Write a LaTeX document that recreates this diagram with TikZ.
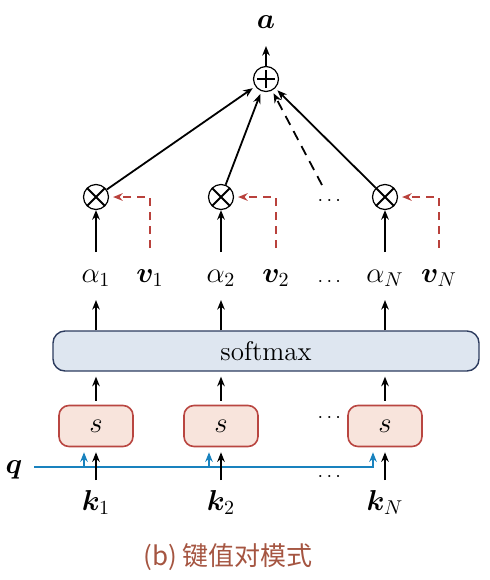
\documentclass[tikz,border=0pt]{standalone}
\usepackage{amsmath}
\usepackage{bm}
\usepackage{fontspec}
\usepackage{xcolor}
\usetikzlibrary{arrows.meta, positioning}
\newfontfamily\cjk{Noto Sans CJK SC}
\definecolor{softfill}{RGB}{222,230,240}
\definecolor{softdraw}{RGB}{45,60,95}
\definecolor{sfill}{RGB}{248,228,220}
\definecolor{sdraw}{RGB}{185,70,65}
\definecolor{qblue}{RGB}{25,130,190}
\definecolor{vred}{RGB}{185,65,60}
\definecolor{capcolor}{RGB}{165,85,65}

\begin{document}
\begin{tikzpicture}[
    x=0.5pt, y=-0.5pt,
    >={Stealth[length=4.8pt, width=3.8pt]},
    every node/.style={font=\fontsize{14}{16}\selectfont},
    lbl/.style={inner sep=0pt, outer sep=6pt, text height=9pt, text depth=3pt},
    dotsnode/.style={inner sep=0pt, text height=5pt, text depth=0pt, font=\fontsize{10}{12}\selectfont},
    sbox/.style={draw=sdraw, fill=sfill, rounded corners=5pt, line width=0.8pt, minimum width=37pt, minimum height=20.5pt},
    op/.style={draw, circle, minimum size=12.5pt, inner sep=0pt, line width=0.6pt},
    mul/.style={op, path picture={
        \draw[line width=1pt] ([shift={(45:6.25pt)}]path picture bounding box.center) -- ([shift={(225:6.25pt)}]path picture bounding box.center)
              ([shift={(135:6.25pt)}]path picture bounding box.center) -- ([shift={(315:6.25pt)}]path picture bounding box.center);}},
    add/.style={op, path picture={
        \draw[line width=1pt] ([xshift=-4.5pt]path picture bounding box.center) -- ([xshift=4.5pt]path picture bounding box.center)
              ([yshift=-4.5pt]path picture bounding box.center) -- ([yshift=4.5pt]path picture bounding box.center);}},
    arr/.style={->, line width=0.9pt},
    vline/.style={->, vred, line width=0.9pt, dash pattern=on 4pt off 3pt},
    qline/.style={qblue, line width=0.9pt},
]
    \useasboundingbox (0,0) rectangle (490,580);

    % Output a and sum
    \node[lbl] (a) at (266,22) {$\bm{a}$};
    \node[add] (plus) at (266,79) {};

    % Weighting
    \node[mul] (mul1) at (96,197) {};
    \node[mul] (mul2) at (221,197) {};
    \node[dotsnode] (dotsM) at (331,200) {$\cdots$};
    \node[mul] (mulN) at (385,197) {};

    % Weights and values
    \node[lbl] (alpha1) at (96,276) {$\alpha_1$};
    \node[lbl] (v1) at (150,276) {$\bm{v}_1$};
    \node[lbl] (alpha2) at (221,276) {$\alpha_2$};
    \node[lbl] (v2) at (276,276) {$\bm{v}_2$};
    \node[dotsnode] (dotsA) at (331,281) {$\cdots$};
    \node[lbl] (alphaN) at (385,276) {$\alpha_N$};
    \node[lbl] (vN) at (439,276) {$\bm{v}_N$};

    % Softmax
    \node[draw=softdraw, fill=softfill, rounded corners=6pt, line width=0.7pt,
          minimum width=213pt, minimum height=20pt, font=\fontsize{13.5}{16}\selectfont] (soft) at (266,351) {softmax};

    % Scoring
    \node[sbox] (s1) at (96,426) {$s$};
    \node[sbox] (s2) at (221,426) {$s$};
    \node[dotsnode] (dotsS) at (331,417) {$\cdots$};
    \node[sbox] (sN) at (385,426) {$s$};

    % Query and keys
    \node[lbl] (q) at (14,467) {$\bm{q}$};
    \node[dotsnode] (dotsK) at (331,476) {$\cdots$};
    \node[lbl] (k1) at (96,504) {$\bm{k}_1$};
    \node[lbl] (k2) at (221,504) {$\bm{k}_2$};
    \node[lbl] (kN) at (385,504) {$\bm{k}_N$};

    % Caption
    \node[text=capcolor, font=\cjk\fontsize{13}{15}\selectfont] (caption) at (228,557) {(b) 键值对模式};

    % Query arrows
    \foreach \i in {1,2,N}
        \coordinate (qin\i) at ([xshift=-6pt]s\i.south);
    \draw[qline, ->, shorten >=2.5pt] (q.east) -| (qinN);
    \draw[qline, ->, shorten >=2.5pt] (qin1 |- q.east) -- (qin1);
    \draw[qline, ->, shorten >=2.5pt] (qin2 |- q.east) -- (qin2);

    % Main arrows
    \foreach \i in {1,2,N} {
        \draw[arr, shorten >=2.5pt] (k\i) -- (s\i);
        \draw[arr, shorten <=2pt, shorten >=2.5pt] (s\i) -- (soft.south -| s\i);
        \draw[arr] (soft.north -| alpha\i) -- (alpha\i);
        \draw[arr] (alpha\i) -- (mul\i);
        \draw[vline, shorten <=2pt, shorten >=2pt] (v\i) |- (mul\i);
        \draw[arr, shorten >=1.5pt] (mul\i) -- (plus);
    }
    \coordinate (dtop) at ([shift={(-4.5pt,7.5pt)}]dotsM.center);
    \draw[arr, dash pattern=on 5pt off 3.5pt, shorten >=1.5pt] (dtop) -- (plus);
    \draw[arr] (plus) -- (a);
\end{tikzpicture}
\end{document}
